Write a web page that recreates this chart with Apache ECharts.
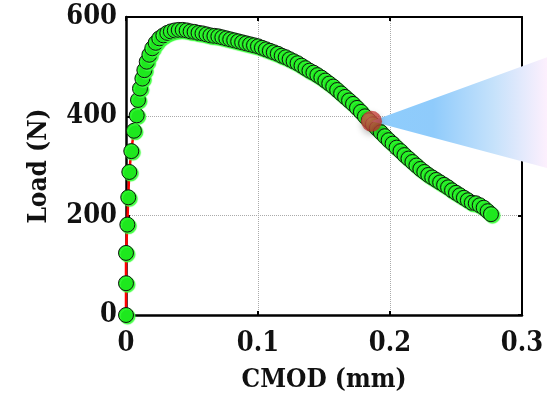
<!DOCTYPE html>
<html>
<head>
<meta charset="utf-8">
<script src="https://cdn.jsdelivr.net/npm/echarts@6/dist/echarts.min.js"></script>
<style>
  html, body { margin: 0; padding: 0; background: #fff; }
  #chart { width: 547px; height: 398px; }
</style>
</head>
<body>
<div id="chart"></div>
<script>
// CMOD (mm) and load (N)
const cmod = [
  0, 0, 0, 0.001, 0.0017, 0.0025, 0.004, 0.006, 0.0081, 0.0091,
  0.0106, 0.0124, 0.0139, 0.0157, 0.0177, 0.0199, 0.0225, 0.0252, 0.0283, 0.0313,
  0.034, 0.037, 0.040, 0.043, 0.046, 0.049, 0.052, 0.055, 0.058, 0.061,
  0.064, 0.067, 0.070, 0.073, 0.076, 0.079, 0.082, 0.085, 0.088, 0.091,
  0.094, 0.097, 0.100, 0.103, 0.106, 0.109, 0.112, 0.115, 0.118, 0.121,
  0.124, 0.127, 0.130, 0.133, 0.136, 0.139, 0.142, 0.145, 0.148, 0.151,
  0.154, 0.157, 0.160, 0.163, 0.166, 0.169, 0.172, 0.175, 0.178, 0.181,
  0.184, 0.187, 0.190, 0.193, 0.196, 0.199, 0.202, 0.205, 0.208, 0.211,
  0.214, 0.217, 0.220, 0.223, 0.226, 0.229, 0.232, 0.235, 0.238, 0.241,
  0.244, 0.247, 0.250, 0.253, 0.256, 0.259, 0.262, 0.265, 0.268, 0.271,
  0.274, 0.2765
]
const load = [
  0, 64, 125, 182, 237, 288, 330, 371, 402, 433,
  456, 476, 493, 510, 524, 537, 548, 557, 563, 568,
  571, 573, 574, 574, 573, 571, 570, 568, 567, 565,
  563, 562, 561, 559, 557, 555, 553, 551, 549, 547,
  545, 543, 541, 538, 535, 532, 529, 526, 522, 519,
  515, 511, 507, 502, 497, 492, 488, 483, 478, 472,
  466, 460, 453, 446, 439, 432, 425, 417, 409, 400,
  392, 384, 376, 368, 360, 352, 345, 337, 330, 322,
  315, 308, 301, 294, 288, 282, 277, 272, 267, 262,
  257, 251, 246, 241, 236, 231, 226, 225, 221, 216,
  209, 203
]
// highlighted point and the light beam leaving it
const markPt = [0.186, 390]
const beamEnd = [0.319, 519, 296]   // x at far edge, top load, bottom load

const xTicks = [0, 0.1, 0.2, 0.3]
const yTicks = [0, 200, 400, 600]

const fontFam = "'DejaVu Serif Condensed', 'DejaVu Serif', serif"

const chart = echarts.init(document.getElementById('chart'))

const boxAxis = {
  axisLine: { show: true, onZero: false, lineStyle: { color: '#000', width: 2 } },
  axisTick: { show: true, inside: true, length: 4, lineStyle: { color: '#000', width: 2 } },
  axisLabel: { show: false },
  splitLine: { show: false }
}

chart.setOption({
  animation: false,
  grid: { left: 126, right: 25, top: 17, bottom: 83 },
  xAxis: [
    { type: 'value', min: xTicks[0], max: xTicks[xTicks.length - 1], interval: 0.1,
      name: 'CMOD (mm)', nameLocation: 'middle', nameGap: 52,
      nameTextStyle: { fontFamily: fontFam, fontWeight: 'bold', fontSize: 26, color: '#111' },
      axisLine: { show: true, onZero: false, lineStyle: { color: '#000', width: 2.5 } },
      axisTick: { show: true, inside: true, length: 4, lineStyle: { color: '#000', width: 2 } },
      axisLabel: { fontFamily: fontFam, fontWeight: 'bold', fontSize: 27, color: '#111', margin: 15,
        formatter: v => String(v) },
      splitLine: { show: true, lineStyle: { color: '#aaa', type: 'dotted', width: 1 } } },
    Object.assign({ type: 'value', position: 'top', min: 0, max: 0.3, interval: 0.1 }, boxAxis)
  ],
  yAxis: [
    { type: 'value', min: yTicks[0], max: yTicks[yTicks.length - 1], interval: 200,
      name: 'Load (N)', nameLocation: 'middle', nameGap: 74, nameRotate: 90,
      nameTextStyle: { fontFamily: fontFam, fontWeight: 'bold', fontSize: 26, color: '#111' },
      axisLine: { show: true, onZero: false, lineStyle: { color: '#000', width: 2.5 } },
      axisTick: { show: true, inside: true, length: 4, lineStyle: { color: '#000', width: 2 } },
      axisLabel: { fontFamily: fontFam, fontWeight: 'bold', fontSize: 27, color: '#111', margin: 9 },
      splitLine: { show: true, lineStyle: { color: '#aaa', type: 'dotted', width: 1 } } },
    Object.assign({ type: 'value', position: 'right', min: 0, max: 600, interval: 200 }, boxAxis)
  ],
  series: [
    {
      type: 'line',
      data: cmod.map((c, i) => [c, load[i]]),
      symbol: 'circle',
      symbolSize: 15,
      lineStyle: { color: '#f00', width: 2.5 },
      itemStyle: { color: '#1ee81e', borderColor: '#111', borderWidth: 1,
        shadowColor: '#3cff3c', shadowOffsetX: 1.5, shadowOffsetY: 1.5, shadowBlur: 1 },
      z: 3
    },
    {
      type: 'custom',
      data: [[markPt[0], markPt[1], beamEnd[0], beamEnd[1], beamEnd[2]]],
      clip: false,
      silent: true,
      z: 5,
      renderItem: (params, api) => {
        const a = api.coord([api.value(0), api.value(1)])
        const t = api.coord([api.value(2), api.value(3)])
        const b = api.coord([api.value(2), api.value(4)])
        return {
          type: 'polygon',
          shape: { points: [a, t, b] },
          style: {
            fill: new echarts.graphic.LinearGradient(0, 0, 1, 0, [
              { offset: 0, color: '#8ecdfc' },
              { offset: 0.35, color: '#8fcbfb' },
              { offset: 0.7, color: '#c6e2fb' },
              { offset: 1, color: '#fdf0fd' }
            ])
          }
        }
      }
    },
    {
      type: 'scatter',
      data: [markPt],
      symbolSize: 21,
      z: 6,
      itemStyle: {
        color: new echarts.graphic.RadialGradient(0.38, 0.35, 0.7, [
          { offset: 0, color: '#de5a54' },
          { offset: 1, color: '#b3302b' }
        ]),
        shadowColor: 'rgba(0,0,0,0.3)', shadowBlur: 6, shadowOffsetY: 3
      }
    }
  ]
})
</script>
</body>
</html>
